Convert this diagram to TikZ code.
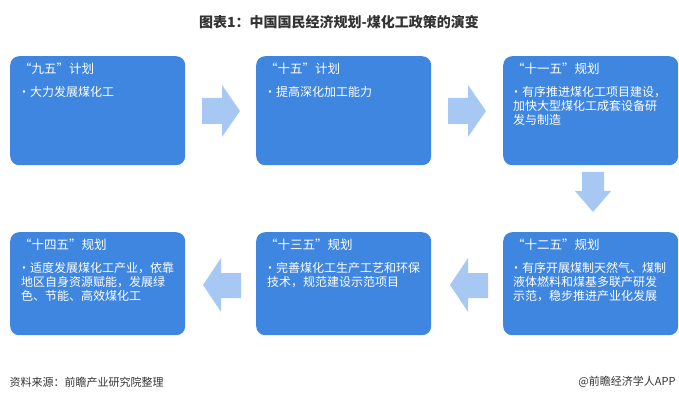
\documentclass[tikz,border=0pt]{standalone}
\usepackage{fontspec}
\setmainfont{Noto Sans CJK SC}
\begin{document}
\begin{tikzpicture}[x=1pt,y=-1pt,
  box/.style={fill=boxblue,rounded corners=9pt,minimum width=175pt,minimum height=#1,anchor=north west},
  hd/.style={anchor=north west,font=\fontsize{12.5}{14}\selectfont,text=white,inner sep=0pt},
  bd/.style={anchor=north west,font=\fontsize{12}{14}\selectfont,text=white,inner sep=0pt,text width=160pt,align=left},
  arr/.style={fill=arrblue,draw=none}]
\definecolor{boxblue}{HTML}{3F86E0}
\definecolor{arrblue}{HTML}{A6C8F2}
\useasboundingbox (0,0) rectangle (679,403);
\node[font=\bfseries\fontsize{14}{16}\selectfont,text=black!80] (title) at (339,22) {图表1：中国国民经济规划-煤化工政策的演变};
% boxes
\node[box=109pt] (b1) at (10,56) {};
\node[box=109pt] (b2) at (256,56) {};
\node[box=109pt] (b3) at (503,56) {};
\node[box=103pt] (b6) at (10,232) {};
\node[box=103pt] (b5) at (256,232) {};
\node[box=103pt] (b4) at (503,232) {};
% texts
\node[hd] (h1) at (19,63) {“九五”计划};
\node[bd] (t1) at (18,86) {•大力发展煤化工};
\node[hd] (h2) at (265,63) {“十五”计划};
\node[bd] (t2) at (264,86) {•提高深化加工能力};
\node[hd] (h3) at (512,63) {“十一五”规划};
\node[bd] (t3) at (510,86) {•有序推进煤化工项目建设，\\\hspace*{3pt}加快大型煤化工成套设备研\\\hspace*{3pt}发与制造};
\node[hd] (h4) at (512,239) {“十二五”规划};
\node[bd] (t4) at (510,262) {•有序开展煤制天然气、煤制\\\hspace*{3pt}液体燃料和煤基多联产研发\\\hspace*{3pt}示范，稳步推进产业化发展};
\node[hd] (h5) at (265,239) {“十三五”规划};
\node[bd] (t5) at (264,262) {•完善煤化工生产工艺和环保\\\hspace*{3pt}技术，规范建设示范项目};
\node[hd] (h6) at (19,239) {“十四五”规划};
\node[bd] (t6) at (18,262) {•适度发展煤化工产业，依靠\\\hspace*{3pt}地区自身资源赋能，发展绿\\\hspace*{3pt}色、节能、高效煤化工};
% arrows
\fill[arr] (202,98) -- (222,98) -- (222,85) -- (240,111) -- (222,137) -- (222,124) -- (202,124) -- cycle;
\fill[arr] (448,98) -- (468,98) -- (468,85) -- (486,111) -- (468,137) -- (468,124) -- (448,124) -- cycle;
\fill[arr] (582,172) -- (604,172) -- (604,191) -- (611,191) -- (593,212) -- (575,191) -- (582,191) -- cycle;
\fill[arr] (488,273) -- (468,273) -- (468,258) -- (450,285) -- (468,312) -- (468,298) -- (488,298) -- cycle;
\fill[arr] (241,273) -- (221,273) -- (221,258) -- (203,285) -- (221,312) -- (221,298) -- (241,298) -- cycle;
% footer
\node[anchor=west,font=\fontsize{11}{13}\selectfont,text=black!80] (src) at (6,382) {资料来源：前瞻产业研究院整理};
\node[anchor=east,font=\fontsize{11}{13}\selectfont,text=black!80] (app) at (679,382) {@前瞻经济学人APP};
\end{tikzpicture}
\end{document}
